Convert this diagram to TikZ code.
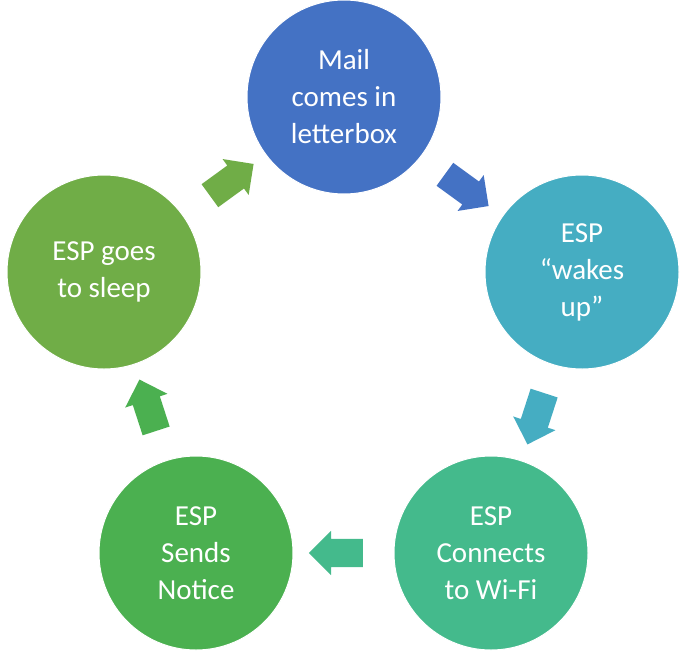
\documentclass[tikz,border=0pt]{standalone}
\usepackage{fontspec}
\setmainfont{Carlito}
\usetikzlibrary{shapes.arrows}
\begin{document}
\begin{tikzpicture}[x=1pt,y=-1pt,
  c/.style={circle,minimum size=194pt,inner sep=0pt,draw=white,line width=1pt,text=white,align=center,font=\fontsize{29}{37}\selectfont},
  a/.style={single arrow,minimum height=54pt,inner xsep=0pt,inner ysep=14pt,single arrow head extend=8pt,draw=none}]
\useasboundingbox (0,0) rectangle (688,667);
\definecolor{c1}{HTML}{4472C4}\definecolor{c2}{HTML}{45ADC2}
\definecolor{c3}{HTML}{44BA8C}\definecolor{c4}{HTML}{4BB050}
\definecolor{c5}{HTML}{70AD47}
\node[c,fill=c1] (n1) at (344,97) {Mail\\comes in\\letterbox};
\node[c,fill=c2] (n2) at (582,272) {ESP\\“wakes\\up”};
\node[c,fill=c3] (n3) at (491,553) {ESP\\Connects\\to Wi-Fi};
\node[c,fill=c4] (n4) at (196,553) {ESP\\Sends\\Notice};
\node[c,fill=c5] (n5) at (104,272) {ESP goes\\to sleep};
\node[a,fill=c1,rotate=-36] (a1) at (461,186) {};
\node[a,fill=c2,rotate=-108] (a2) at (538,412) {};
\node[a,fill=c3,rotate=180] (a3) at (343,553) {};
\node[a,fill=c4,rotate=108] (a4) at (150,412) {};
\node[a,fill=c5,rotate=36] (a5) at (226,184) {};
\end{tikzpicture}
\end{document}
